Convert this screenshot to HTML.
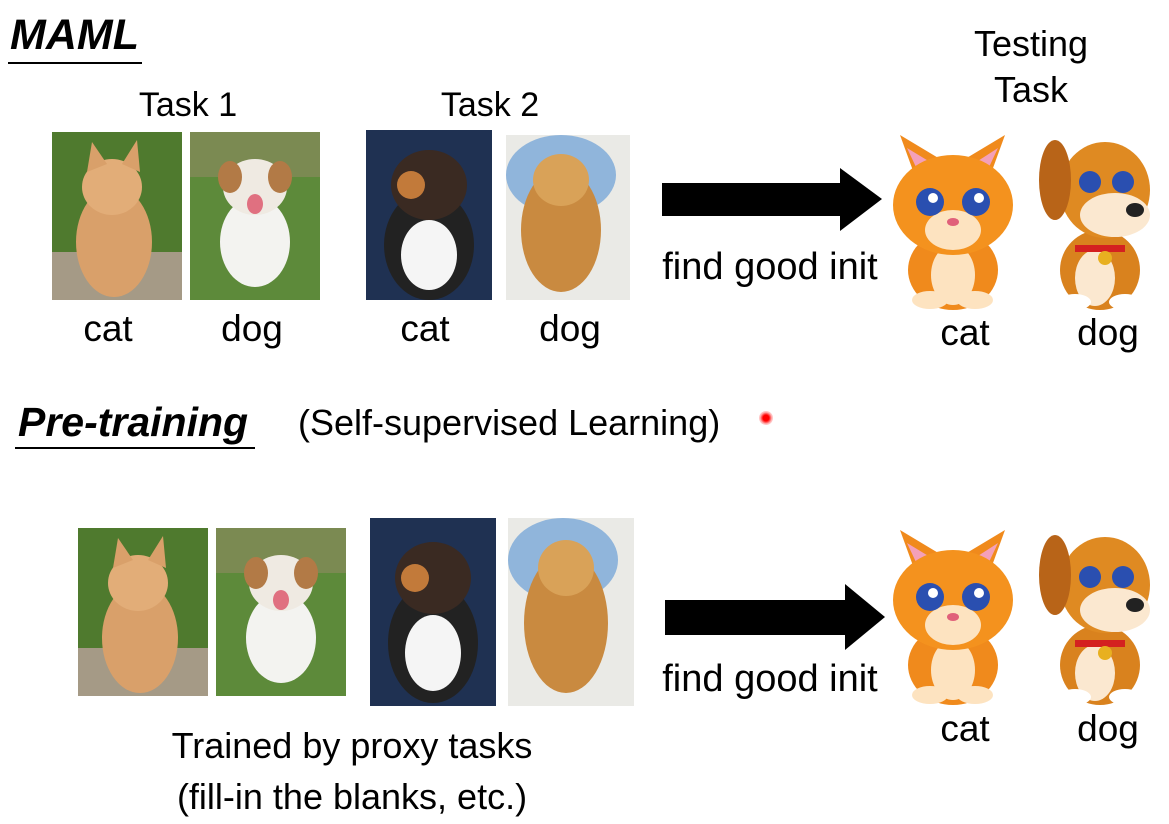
<!DOCTYPE html>
<html><head><meta charset="utf-8"><style>
body{margin:0;width:1169px;height:824px;background:#fff;position:relative;overflow:hidden;font-family:"Liberation Sans",sans-serif;color:#000}
.t{position:absolute;white-space:nowrap;font-size:37px;line-height:1}
.c{transform:translateX(-50%)}
svg{position:absolute}
</style></head><body>
<div class="t" style="left:10px;top:14px;font-size:43px;font-weight:bold;font-style:italic">MAML</div>
<div style="position:absolute;left:8px;top:62px;width:134px;height:2px;background:#000"></div>
<div class="t c" style="left:188px;top:88px;font-size:34px">Task 1</div>
<div class="t c" style="left:490px;top:88px;font-size:34px">Task 2</div>
<div class="t c" style="left:1031px;top:26px;font-size:36px">Testing</div>
<div class="t c" style="left:1031px;top:72px;font-size:36px">Task</div>

<svg style="left:52px;top:132px" width="130" height="168"><rect width="130" height="168" fill="#4f7a2e"/><rect y="120" width="130" height="48" fill="#a59a86"/><ellipse cx="62" cy="110" rx="38" ry="55" fill="#d9a06a"/><ellipse cx="60" cy="55" rx="30" ry="28" fill="#e2ad78"/><polygon points="35,40 40,10 55,32" fill="#d9a06a"/><polygon points="70,32 85,8 88,40" fill="#d9a06a"/></svg>
<svg style="left:190px;top:132px" width="130" height="168"><rect width="130" height="168" fill="#5d8a3a"/><rect width="130" height="45" fill="#7b8a52"/><ellipse cx="65" cy="110" rx="35" ry="45" fill="#f3f3f0"/><ellipse cx="65" cy="55" rx="32" ry="28" fill="#efeae2"/><ellipse cx="40" cy="45" rx="12" ry="16" fill="#b27a46"/><ellipse cx="90" cy="45" rx="12" ry="16" fill="#b27a46"/><ellipse cx="65" cy="72" rx="8" ry="10" fill="#e07080"/></svg>
<svg style="left:366px;top:130px" width="126" height="170"><rect width="126" height="170" fill="#1f3152"/><ellipse cx="63" cy="115" rx="45" ry="55" fill="#222"/><ellipse cx="63" cy="125" rx="28" ry="35" fill="#f5f5f5"/><ellipse cx="63" cy="55" rx="38" ry="35" fill="#3a2a22"/><ellipse cx="45" cy="55" rx="14" ry="14" fill="#c27a3a"/></svg>
<svg style="left:506px;top:135px" width="124" height="165"><rect width="124" height="165" fill="#eaeae6"/><ellipse cx="55" cy="40" rx="55" ry="40" fill="#6a9ed6" opacity=".7"/><ellipse cx="55" cy="95" rx="40" ry="62" fill="#c98a40"/><ellipse cx="55" cy="45" rx="28" ry="26" fill="#d9a258"/></svg>

<div class="t c" style="left:108px;top:310px">cat</div>
<div class="t c" style="left:252px;top:310px">dog</div>
<div class="t c" style="left:425px;top:310px">cat</div>
<div class="t c" style="left:570px;top:310px">dog</div>

<svg style="left:660px;top:165px" width="225" height="70"><rect x="2" y="18" width="180" height="33" fill="#000"/><polygon points="180,3 222,34 180,66" fill="#000"/></svg>
<div class="t c" style="left:770px;top:248px;font-size:38px">find good init</div>

<svg style="left:875px;top:120px" width="155" height="190"><polygon points="25,15 45,70 75,45" fill="#f08a1c"/><polygon points="130,15 110,70 80,45" fill="#f08a1c"/><polygon points="32,28 48,62 65,48" fill="#f4a0b8"/><polygon points="123,28 107,62 92,48" fill="#f4a0b8"/><ellipse cx="78" cy="150" rx="45" ry="40" fill="#f08a1c"/><ellipse cx="78" cy="155" rx="22" ry="30" fill="#fde3c0"/><ellipse cx="78" cy="85" rx="60" ry="50" fill="#f4921e"/><ellipse cx="78" cy="110" rx="28" ry="20" fill="#fde3c0"/><circle cx="55" cy="82" r="14" fill="#2a4fb0"/><circle cx="101" cy="82" r="14" fill="#2a4fb0"/><circle cx="58" cy="78" r="5" fill="#fff"/><circle cx="104" cy="78" r="5" fill="#fff"/><ellipse cx="78" cy="102" rx="6" ry="4" fill="#e0607a"/><ellipse cx="55" cy="180" rx="18" ry="9" fill="#fde3c0"/><ellipse cx="100" cy="180" rx="18" ry="9" fill="#fde3c0"/></svg>
<svg style="left:1035px;top:120px" width="130" height="190"><ellipse cx="65" cy="150" rx="40" ry="40" fill="#d9821e"/><ellipse cx="60" cy="158" rx="20" ry="28" fill="#fbe8d0"/><ellipse cx="70" cy="70" rx="45" ry="48" fill="#df8a22"/><ellipse cx="20" cy="60" rx="16" ry="40" fill="#b86418"/><ellipse cx="80" cy="95" rx="35" ry="22" fill="#fbe8d0"/><circle cx="55" cy="62" r="11" fill="#2a4fb0"/><circle cx="88" cy="62" r="11" fill="#2a4fb0"/><ellipse cx="100" cy="90" rx="9" ry="7" fill="#222"/><rect x="40" y="125" width="50" height="7" fill="#d42020"/><circle cx="70" cy="138" r="7" fill="#e8b020"/><ellipse cx="40" cy="182" rx="16" ry="8" fill="#fff"/><ellipse cx="90" cy="182" rx="16" ry="8" fill="#fff"/></svg>
<div class="t c" style="left:965px;top:314px">cat</div>
<div class="t c" style="left:1108px;top:314px">dog</div>

<div class="t" style="left:18px;top:402px;font-size:41px;font-weight:bold;font-style:italic">Pre-training</div>
<div style="position:absolute;left:15px;top:447px;width:240px;height:2px;background:#000"></div>
<div class="t" style="left:298px;top:405px;font-size:36px">(Self-supervised Learning)</div>
<div style="position:absolute;left:759px;top:411px;width:14px;height:14px;border-radius:50%;background:radial-gradient(#f00 30%,#fbb 60%,rgba(255,200,200,0) 100%)"></div>

<svg style="left:78px;top:528px" width="130" height="168"><rect width="130" height="168" fill="#4f7a2e"/><rect y="120" width="130" height="48" fill="#a59a86"/><ellipse cx="62" cy="110" rx="38" ry="55" fill="#d9a06a"/><ellipse cx="60" cy="55" rx="30" ry="28" fill="#e2ad78"/><polygon points="35,40 40,10 55,32" fill="#d9a06a"/><polygon points="70,32 85,8 88,40" fill="#d9a06a"/></svg>
<svg style="left:216px;top:528px" width="130" height="168"><rect width="130" height="168" fill="#5d8a3a"/><rect width="130" height="45" fill="#7b8a52"/><ellipse cx="65" cy="110" rx="35" ry="45" fill="#f3f3f0"/><ellipse cx="65" cy="55" rx="32" ry="28" fill="#efeae2"/><ellipse cx="40" cy="45" rx="12" ry="16" fill="#b27a46"/><ellipse cx="90" cy="45" rx="12" ry="16" fill="#b27a46"/><ellipse cx="65" cy="72" rx="8" ry="10" fill="#e07080"/></svg>
<svg style="left:370px;top:518px" width="126" height="188"><rect width="126" height="188" fill="#1f3152"/><ellipse cx="63" cy="125" rx="45" ry="60" fill="#222"/><ellipse cx="63" cy="135" rx="28" ry="38" fill="#f5f5f5"/><ellipse cx="63" cy="60" rx="38" ry="36" fill="#3a2a22"/><ellipse cx="45" cy="60" rx="14" ry="14" fill="#c27a3a"/></svg>
<svg style="left:508px;top:518px" width="126" height="188"><rect width="126" height="188" fill="#eaeae6"/><ellipse cx="55" cy="42" rx="55" ry="42" fill="#6a9ed6" opacity=".7"/><ellipse cx="58" cy="105" rx="42" ry="70" fill="#c98a40"/><ellipse cx="58" cy="50" rx="28" ry="28" fill="#d9a258"/></svg>

<svg style="left:663px;top:582px" width="225" height="70"><rect x="2" y="18" width="182" height="35" fill="#000"/><polygon points="182,2 222,35 182,68" fill="#000"/></svg>
<div class="t c" style="left:770px;top:660px;font-size:38px">find good init</div>

<svg style="left:875px;top:515px" width="155" height="190"><polygon points="25,15 45,70 75,45" fill="#f08a1c"/><polygon points="130,15 110,70 80,45" fill="#f08a1c"/><polygon points="32,28 48,62 65,48" fill="#f4a0b8"/><polygon points="123,28 107,62 92,48" fill="#f4a0b8"/><ellipse cx="78" cy="150" rx="45" ry="40" fill="#f08a1c"/><ellipse cx="78" cy="155" rx="22" ry="30" fill="#fde3c0"/><ellipse cx="78" cy="85" rx="60" ry="50" fill="#f4921e"/><ellipse cx="78" cy="110" rx="28" ry="20" fill="#fde3c0"/><circle cx="55" cy="82" r="14" fill="#2a4fb0"/><circle cx="101" cy="82" r="14" fill="#2a4fb0"/><circle cx="58" cy="78" r="5" fill="#fff"/><circle cx="104" cy="78" r="5" fill="#fff"/><ellipse cx="78" cy="102" rx="6" ry="4" fill="#e0607a"/><ellipse cx="55" cy="180" rx="18" ry="9" fill="#fde3c0"/><ellipse cx="100" cy="180" rx="18" ry="9" fill="#fde3c0"/></svg>
<svg style="left:1035px;top:515px" width="130" height="190"><ellipse cx="65" cy="150" rx="40" ry="40" fill="#d9821e"/><ellipse cx="60" cy="158" rx="20" ry="28" fill="#fbe8d0"/><ellipse cx="70" cy="70" rx="45" ry="48" fill="#df8a22"/><ellipse cx="20" cy="60" rx="16" ry="40" fill="#b86418"/><ellipse cx="80" cy="95" rx="35" ry="22" fill="#fbe8d0"/><circle cx="55" cy="62" r="11" fill="#2a4fb0"/><circle cx="88" cy="62" r="11" fill="#2a4fb0"/><ellipse cx="100" cy="90" rx="9" ry="7" fill="#222"/><rect x="40" y="125" width="50" height="7" fill="#d42020"/><circle cx="70" cy="138" r="7" fill="#e8b020"/><ellipse cx="40" cy="182" rx="16" ry="8" fill="#fff"/><ellipse cx="90" cy="182" rx="16" ry="8" fill="#fff"/></svg>
<div class="t c" style="left:965px;top:710px">cat</div>
<div class="t c" style="left:1108px;top:710px">dog</div>

<div class="t c" style="left:352px;top:728px;font-size:36px">Trained by proxy tasks</div>
<div class="t c" style="left:352px;top:779px;font-size:36px">(fill-in the blanks, etc.)</div>
</body></html>
